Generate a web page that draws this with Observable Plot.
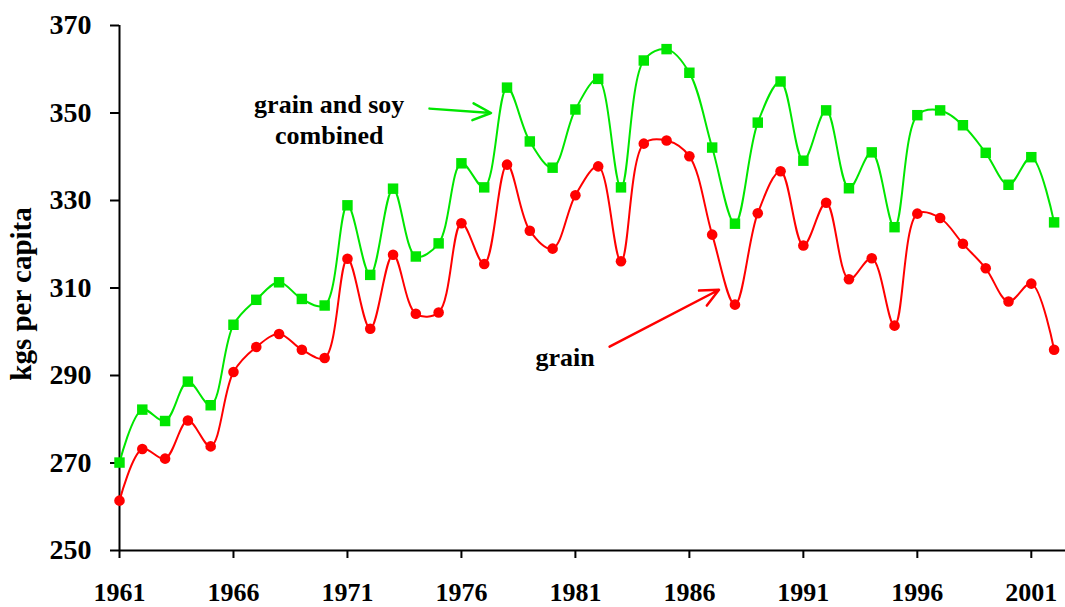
<!DOCTYPE html>
<html>
<head>
<meta charset="utf-8">
<script src="https://cdn.jsdelivr.net/npm/d3@7"></script>
<script src="https://cdn.jsdelivr.net/npm/@observablehq/plot@0.6"></script>
<style>
  html, body { margin: 0; padding: 0; background: #fff; }
</style>
</head>
<body>
<div id="chart"></div>
<script>
const years = [1961,1962,1963,1964,1965,1966,1967,1968,1969,1970,
  1971,1972,1973,1974,1975,1976,1977,1978,1979,1980,
  1981,1982,1983,1984,1985,1986,1987,1988,1989,1990,
  1991,1992,1993,1994,1995,1996,1997,1998,1999,2000,
  2001,2002];

const grain = [261.4, 273.2, 271.0, 279.7, 273.8, 290.8, 296.5, 299.5, 295.9, 294.0,
  316.7, 300.7, 317.6, 304.1, 304.4, 324.8, 315.5, 338.2, 323.1, 319.0,
  331.2, 337.8, 316.1, 343.0, 343.7, 340.1, 322.2, 306.2, 327.1, 336.7,
  319.7, 329.5, 312.0, 316.8, 301.4, 327.0, 326.0, 320.1, 314.5, 306.9,
  311.0, 295.9];

const combined = [270.1, 282.2, 279.6, 288.6, 283.2, 301.6, 307.3, 311.3, 307.5, 306.0,
  328.9, 313.0, 332.7, 317.2, 320.2, 338.5, 333.0, 355.8, 343.5, 337.5,
  350.8, 357.8, 333.0, 362.0, 364.6, 359.2, 342.1, 324.7, 347.8, 357.2,
  339.1, 350.6, 332.8, 341.0, 323.9, 349.5, 350.6, 347.2, 340.9, 333.6,
  339.9, 325.0];

const xTicks = [1961, 1966, 1971, 1976, 1981, 1986, 1991, 1996, 2001];
const yTicks = [250, 270, 290, 310, 330, 350, 370];
const yLabel = "kgs per capita";

const labels = [
  {text: "grain and soy\ncombined", year: 1970.2, value: 348.8},
  {text: "grain", year: 1980.55, value: 294.4}
];
const arrows = [
  {x1: 1974.6, y1: 351.0, x2: 1977.3, y2: 350.0, series: "combined"},
  {x1: 1982.5, y1: 296.6, x2: 1987.3, y2: 309.6, series: "grain"}
];

const GREEN = "#00e600";
const RED = "#ff0000";
const FONT = "'Liberation Serif', 'Times New Roman', serif";

const grainData = years.map((y, i) => ({year: y, value: grain[i]}));
const combinedData = years.map((y, i) => ({year: y, value: combined[i]}));

const chart = Plot.plot({
  width: 1065,
  height: 607,
  marginLeft: 119,
  marginRight: 0,
  marginTop: 25,
  marginBottom: 57,
  style: {fontFamily: FONT, fontWeight: "bold", background: "#fff", color: "#000"},
  x: {domain: [1961, 2002.5]},
  y: {domain: [250, 370]},
  marks: [
    Plot.axisX({ticks: xTicks, tickFormat: d => String(d), tickSize: 8, tickPadding: 24, fontSize: 26, fontFamily: FONT, label: null, strokeWidth: 2}),
    Plot.axisY({ticks: yTicks, tickSize: 9, tickPadding: 19, fontSize: 28, fontFamily: FONT, label: null, strokeWidth: 2}),
    Plot.text([yLabel], {frameAnchor: "left", dx: -97.5, dy: 6, rotate: -90, text: d => d, fontSize: 29, fontFamily: FONT, fontWeight: "bold", fill: "#000", textAnchor: "middle", lineAnchor: "middle"}),
    Plot.ruleY([250], {stroke: "#000", strokeWidth: 2}),
    Plot.ruleX([1961], {stroke: "#000", strokeWidth: 2}),
    Plot.line(combinedData, {x: "year", y: "value", stroke: GREEN, strokeWidth: 2, curve: "catmull-rom"}),
    Plot.line(grainData, {x: "year", y: "value", stroke: RED, strokeWidth: 2, curve: "catmull-rom"}),
    Plot.dot(combinedData, {x: "year", y: "value", symbol: "square", r: 5.9, fill: GREEN, stroke: "none"}),
    Plot.dot(grainData, {x: "year", y: "value", symbol: "circle", r: 5.3, fill: RED, stroke: "none"}),
    Plot.arrow(arrows, {x1: "x1", y1: "y1", x2: "x2", y2: "y2", stroke: d => d.series === "grain" ? RED : GREEN, strokeWidth: 2.5, headLength: 12, headAngle: 50}),
    Plot.text(labels, {x: "year", y: "value", text: "text", fontSize: 26, fontFamily: FONT, fontWeight: "bold", lineHeight: 1.22, fill: "#000", textAnchor: "middle", lineAnchor: "middle"})
  ]
});

document.getElementById("chart").appendChild(chart);
</script>
</body>
</html>
